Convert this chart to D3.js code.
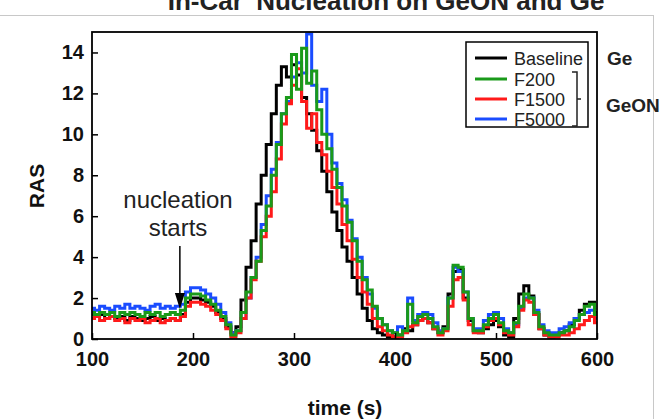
<!DOCTYPE html>
<html><head><meta charset="utf-8">
<script src="https://cdn.jsdelivr.net/npm/d3@7"></script>
<style>body{margin:0;background:#fff}svg{display:block;font-family:Arial,"Liberation Sans",sans-serif}</style>
</head><body><svg id="c" width="667" height="419"></svg>
<script>
const times = d3.range(100, 601, 5);
const baseline = [1.2,1.1,1.2,1.0,1.1,1.0,1.1,0.9,1.1,1.0,0.9,1.0,1.1,0.9,1.0,0.9,1.0,0.9,1.2,1.8,2.0,2.0,1.9,1.8,1.6,1.3,1.0,0.6,0.3,0.6,1.9,3.5,4.8,6.6,8.0,9.5,11.0,12.4,13.3,12.8,13.4,12.9,11.8,11.0,10.2,9.2,8.2,7.2,6.2,5.3,4.5,3.8,3.0,2.2,1.5,0.9,0.5,0.3,0.2,0.1,0.1,0.2,0.5,0.4,0.7,0.9,1.0,0.8,0.5,0.3,0.6,2.2,3.3,3.4,2.0,0.9,0.4,0.3,0.5,0.7,0.9,0.6,0.2,0.1,1.0,2.2,2.6,2.1,1.2,0.5,0.2,0.1,0.2,0.3,0.4,0.7,1.0,1.4,1.7,1.8,1.3];
const f200 = [1.3,1.2,1.3,1.2,1.3,1.1,1.3,1.2,1.3,1.2,1.1,1.3,1.2,1.3,1.1,1.2,1.3,1.2,1.4,2.0,2.2,2.2,2.1,1.9,1.7,1.4,1.1,0.7,0.2,0.4,1.3,2.3,3.0,3.8,5.3,6.5,8.0,9.5,11.0,11.8,13.9,12.2,14.2,12.5,13.1,11.2,10.0,9.3,8.3,7.4,6.5,5.7,4.8,3.8,2.9,2.4,1.6,1.0,0.7,0.4,0.3,0.2,0.4,1.7,0.8,1.1,1.2,1.0,0.6,0.3,0.5,2.0,3.6,3.5,2.3,1.0,0.4,0.4,0.7,1.0,1.2,0.8,0.4,0.3,0.8,1.6,2.2,2.0,1.3,0.6,0.3,0.2,0.2,0.3,0.4,0.6,0.9,1.2,1.6,1.7,1.2];
const f1500 = [1.0,1.1,0.9,1.0,1.1,0.9,1.0,0.8,1.0,0.9,1.0,0.8,0.9,1.0,0.8,0.9,1.0,0.9,1.1,1.6,1.8,1.8,1.7,1.6,1.4,1.2,0.9,0.5,0.1,0.3,1.0,2.0,2.9,3.8,5.0,6.0,7.2,8.8,10.5,11.5,12.4,13.2,11.6,10.3,11.0,9.6,9.0,8.2,7.4,6.6,5.6,4.8,3.9,3.0,2.3,1.7,1.0,0.6,0.4,0.2,0.1,0.1,0.3,0.6,0.7,0.9,1.0,0.8,0.5,0.2,0.4,1.6,2.9,3.0,1.9,0.7,0.3,0.3,0.6,0.9,1.0,0.7,0.3,0.2,0.6,1.4,1.9,1.8,1.2,0.5,0.2,0.1,0.1,0.2,0.2,0.3,0.5,0.7,0.9,1.1,0.8];
const f5000 = [1.5,1.4,1.6,1.5,1.4,1.6,1.5,1.7,1.5,1.6,1.5,1.4,1.6,1.7,1.5,1.6,1.5,1.6,1.7,2.3,2.5,2.5,2.4,2.2,2.0,1.7,1.3,0.8,0.3,0.4,1.0,2.0,3.0,4.0,5.6,7.0,8.3,9.6,11.0,11.6,12.8,13.5,13.0,14.9,12.4,11.6,12.2,10.0,8.6,7.6,6.8,5.8,4.9,4.0,3.0,2.2,1.5,1.0,0.7,0.4,0.3,0.6,0.4,2.0,0.9,1.2,1.3,1.2,0.8,0.4,0.5,2.0,3.5,3.3,2.3,1.0,0.5,0.5,0.9,1.2,1.3,1.0,0.5,0.3,0.7,1.5,2.0,2.0,1.4,0.7,0.4,0.3,0.3,0.5,0.6,0.8,1.0,1.2,1.3,1.4,1.0];
const seriesNames = ["Baseline","F200","F1500","F5000"];
const seriesColors = ["#000000","#1a9a1a","#ff1a1a","#1a4cff"];
const xTicks = [100,200,300,400,500,600];
const yTicks = [0,2,4,6,8,10,12,14];

const svg = d3.select("#c");
const x = d3.scaleLinear().domain([100,600]).range([92,597]);
const y = d3.scaleLinear().domain([0,15]).range([339,32]);

svg.append("line").attr("x1",0).attr("x2",653).attr("y1",15.5).attr("y2",15.5).attr("stroke","#c8c8c8");
svg.append("line").attr("x1",653.5).attr("x2",653.5).attr("y1",15).attr("y2",419).attr("stroke","#c8c8c8");
svg.append("text").attr("x",386).attr("y",10).attr("text-anchor","middle").attr("font-size",26).attr("font-weight","bold").attr("fill","#222").text("In-Car' Nucleation on GeON and Ge");

const data = [baseline,f200,f1500,f5000];
const order = [0,3,2,1];
const line = d3.line().x((d,i)=>x(times[i])).y(d=>y(d)).curve(d3.curveStep);
const g = svg.append("g");
g.append("clipPath").attr("id","cp").append("rect").attr("x",92).attr("y",32).attr("width",505).attr("height",307);
order.forEach(k=>{
  g.append("path").datum(data[k]).attr("d",line).attr("fill","none").attr("stroke",seriesColors[k]).attr("stroke-width",3).attr("stroke-linejoin","miter").attr("clip-path","url(#cp)");
});

const xa = svg.append("g").attr("transform","translate(0,339)").call(d3.axisBottom(x).tickValues(xTicks).tickSize(-6).tickPadding(13).tickFormat(d3.format("d")));
const ya = svg.append("g").attr("transform","translate(92,0)").call(d3.axisLeft(y).tickValues(yTicks).tickSize(-6).tickPadding(8));
[xa,ya].forEach(a=>{
  a.select(".domain").remove();
  a.selectAll("line").attr("stroke","#000").attr("stroke-width",1.5);
  a.selectAll("text").attr("font-size",20).attr("font-weight","bold").attr("fill","#111").attr("font-family","Arial, 'Liberation Sans', sans-serif");
});
svg.append("rect").attr("x",92).attr("y",32).attr("width",505).attr("height",307).attr("fill","none").attr("stroke","#000").attr("stroke-width",1.8);

svg.append("text").attr("x",345).attr("y",415).attr("text-anchor","middle").attr("font-size",21).attr("font-weight","bold").attr("fill","#111").text("time (s)");
svg.append("text").attr("transform","translate(44,186) rotate(-90)").attr("text-anchor","middle").attr("font-size",21).attr("font-weight","bold").attr("fill","#111").text("RAS");

svg.append("text").attr("x",178).attr("y",208).attr("text-anchor","middle").attr("font-size",24).attr("fill","#222").text("nucleation");
svg.append("text").attr("x",178).attr("y",236).attr("text-anchor","middle").attr("font-size",24).attr("fill","#222").text("starts");
svg.append("line").attr("x1",x(187)).attr("x2",x(187)).attr("y1",246).attr("y2",296).attr("stroke","#000").attr("stroke-width",1.5);
svg.append("path").attr("d",`M${x(187)-5},293 L${x(187)+5},293 L${x(187)},309 Z`).attr("fill","#000");

svg.append("rect").attr("x",466).attr("y",42).attr("width",122).attr("height",85).attr("fill","#fff").attr("stroke","#000").attr("stroke-width",1.5);
const ly = [58,79,99,119];
seriesNames.forEach((n,i)=>{
  svg.append("line").attr("x1",475).attr("x2",507).attr("y1",ly[i]).attr("y2",ly[i]).attr("stroke",seriesColors[i]).attr("stroke-width",3);
  svg.append("text").attr("x",514).attr("y",ly[i]+6.5).attr("font-size",18).attr("fill","#222").text(n);
});
svg.append("path").attr("d","M572,72 L577,72 L577,126 L572,126 M577,99 L581,99").attr("fill","none").attr("stroke","#222").attr("stroke-width",1.5);
svg.append("text").attr("x",607).attr("y",65).attr("font-size",19).attr("font-weight","bold").attr("fill","#222").text("Ge");
svg.append("text").attr("x",606).attr("y",112).attr("font-size",19).attr("font-weight","bold").attr("fill","#222").text("GeON");
</script></body></html>
